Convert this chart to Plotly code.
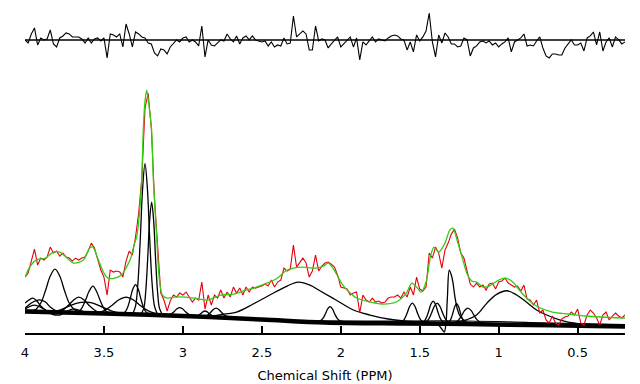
import plotly.graph_objects as go

# ---------------- data ----------------
ppm = [round(4.00 - 0.02 * i, 2) for i in range(191)]

spectrum = [56, 60, 72, 84, 68, 75, 73, 76, 86, 80,
            82, 77, 80, 76, 75, 72, 75, 73, 75, 76,
            82, 90, 85, 74, 63, 56, 38, 63, 61, 62,
            61, 56, 72, 82, 78, 96, 120, 155, 225, 240,
            205, 135, 88, 40, 33, 22, 32, 38, 36, 40,
            38, 41, 36, 31, 35, 33, 51, 24, 38, 28,
            38, 35, 43, 35, 41, 36, 46, 40, 45, 38,
            46, 41, 46, 45, 46, 47, 49, 47, 53, 46,
            51, 53, 65, 62, 64, 88, 66, 70, 75, 70,
            56, 62, 78, 62, 67, 70, 71, 69, 66, 58,
            46, 45, 44, 38, 40, 41, 20, 38, 33, 31,
            35, 31, 32, 30, 31, 35, 36, 36, 38, 35,
            41, 36, 46, 38, 56, 44, 42, 46, 80, 75,
            86, 80, 65, 83, 90, 99, 104, 95, 80, 75,
            62, 49, 46, 50, 46, 48, 43, 49, 50, 44,
            51, 52, 55, 50, 48, 46, 47, 42, 48, 34,
            33, 28, 33, 20, 23, 13, 10, 17, 10, 8,
            14, 16, 17, 21, 18, 24, 10, 8, 18, 23,
            20, 15, 8, 18, 21, 13, 17, 20, 17, 15,
            18]

residual = [0, -3, 6, 12, -5, 2, 0, 1, 10, -4,
            -7, 2, 4, 7, 6, 3, 3, 3, 1, -3,
            2, -3, 1, 2, -1, 2, -18, 6, 5, 3,
            6, -7, 16, 6, -7, 8, 6, 3, 2, -3,
            -4, -13, -16, -9, -10, -14, -7, -3, 0, -2,
            2, 3, -2, 0, -2, -6, 14, -17, 0, -5,
            -6, -3, 0, -1, 6, 1, -2, 4, -4, 2,
            4, 0, 4, 0, -1, -2, -1, -6, -2, -7,
            -5, -6, 2, -4, -3, 24, 3, 6, 9, 6,
            -10, -10, 14, -1, 1, 0, -8, -4, -1, 3,
            -7, -4, -1, 3, -7, 2, -20, -2, -5, -1,
            3, -2, 1, 0, -1, 2, 4, 5, 4, 1,
            0, -10, -2, -12, 5, -1, 3, 9, 27, -2,
            -17, 5, -3, 7, 3, -4, -4, -7, -6, 2,
            0, -16, -8, -6, -2, -1, -3, -1, -5, -3,
            -7, -4, -2, 2, -12, -2, 0, 2, 6, -6,
            -5, -6, -1, 3, -8, -16, -18, -14, -14, -15,
            -15, -8, -4, 0, -5, -5, -3, -11, 2, 4,
            8, -5, 8, -11, -2, 2, -7, 3, 0, -4,
            -2]

fit_ppm = [4.00, 3.97, 3.93, 3.87, 3.82, 3.78, 3.74, 3.69, 3.63, 3.59,
           3.57, 3.54, 3.50, 3.475, 3.43, 3.39, 3.36, 3.33, 3.31, 3.293,
           3.275, 3.261, 3.251, 3.24, 3.229, 3.215, 3.198, 3.187, 3.166, 3.15,
           3.13, 3.10, 3.06, 2.98, 2.90, 2.84, 2.76, 2.68, 2.60, 2.55,
           2.50, 2.45, 2.40, 2.35, 2.30, 2.24, 2.16, 2.11, 2.08, 2.05,
           2.02, 2.00, 1.96, 1.90, 1.81, 1.73, 1.65, 1.585, 1.55, 1.52,
           1.49, 1.46, 1.43, 1.41, 1.38, 1.34, 1.31, 1.29, 1.26, 1.23,
           1.20, 1.17, 1.14, 1.10, 1.06, 1.00, 0.96, 0.91, 0.87, 0.81,
           0.75, 0.66, 0.56, 0.45, 0.35, 0.20]
fit_val = [56, 66, 73, 75, 81, 81, 76, 70, 73, 85,
           86, 75, 60, 55, 55, 58, 65, 75, 88, 96,
           120, 153, 203, 232, 243, 228, 203, 153, 96, 55,
           38, 35, 36, 36, 34, 33, 38, 39, 43, 45,
           48, 51, 55, 62, 65, 66, 65, 67, 70, 65,
           57, 51, 43, 35, 31, 29, 31, 40, 50, 46,
           41, 51, 78, 86, 81, 90, 103, 105, 91, 75,
           59, 52, 51, 46, 47, 53, 55, 51, 43, 33,
           26, 21, 19, 17, 16, 15]

baseline_ppm = [4.0, 3.5, 3.0, 2.5, 2.1, 1.6, 1.2, 0.8, 0.4, 0.2]
baseline_val = [21.5, 19.5, 17, 13.5, 10.5, 9.5, 9, 8, 7, 6.5]
baseline2_ppm = [4.0, 3.0, 2.6, 2.1, 1.2, 0.8, 0.2]
baseline2_val = [23, 18, 14.5, 12, 12, 10.5, 8.5]

c01_ppm = [4.00, 3.975, 3.95, 3.925, 3.90, 3.875, 3.85, 3.82]
c01_val = [30, 33, 35, 32, 27, 23.5, 21.5, 21]
c02_ppm = [4.00, 3.96, 3.93, 3.90, 3.87, 3.84, 3.80, 3.76]
c02_val = [25, 30, 32.5, 33, 31, 26, 22, 20.5]
c03_ppm = [4.00, 3.94, 3.88, 3.83, 3.78, 3.74, 3.70, 3.66, 3.60]
c03_val = [24, 28, 24, 19, 18, 21, 24, 23, 20]
c04_ppm = [3.97, 3.93, 3.90, 3.87, 3.84, 3.81, 3.78, 3.75, 3.72, 3.69, 3.65]
c04_val = [21, 23.7, 30, 42.5, 57, 64, 57, 42.5, 30, 23.7, 21]
c05_ppm = [3.82, 3.77, 3.73, 3.695, 3.66, 3.625, 3.59, 3.55, 3.50]
c05_val = [20.5, 22, 27, 32.5, 36, 33, 27, 22, 20]
c06_ppm = [3.85, 3.78, 3.72, 3.67, 3.62, 3.57, 3.51, 3.45, 3.38]
c06_val = [21, 23, 27, 30, 31, 30, 26, 22, 19.5]
c07_ppm = [3.69, 3.66, 3.64, 3.615, 3.595, 3.57, 3.545, 3.525, 3.50, 3.48, 3.45]
c07_val = [20.4, 21.5, 25, 33.5, 41.5, 47, 41, 33, 24.5, 21, 20]
c08_ppm = [3.60, 3.54, 3.495, 3.45, 3.405, 3.36, 3.315, 3.27, 3.225, 3.18, 3.12]
c08_val = [19.2, 20, 22.6, 27.5, 33.3, 36, 33.3, 27.5, 22.6, 20, 18.5]
c09_ppm = [3.40, 3.37, 3.3525, 3.335, 3.3175, 3.30, 3.2825, 3.265, 3.2475, 3.23, 3.20]
c09_val = [18.5, 20.4, 24.8, 33.5, 43.7, 48.5, 43.7, 33.5, 24.8, 20.4, 18.5]
c10_ppm = [3.32, 3.30, 3.285, 3.27, 3.255, 3.24, 3.225, 3.21, 3.195, 3.18, 3.16]
c10_val = [18.4, 27, 49.5, 93.5, 145, 169.5, 145, 93.5, 49.5, 27, 18.4]
c11_ppm = [3.268, 3.248, 3.2355, 3.223, 3.2105, 3.198, 3.1855, 3.173, 3.1605, 3.148, 3.128]
c11_val = [18, 24.6, 41.3, 74.3, 113, 131, 113, 74.3, 41.3, 24.6, 18]
c12_ppm = [3.12, 3.09, 3.0725, 3.055, 3.0375, 3.02, 3.0025, 2.985, 2.9675, 2.95, 2.92]
c12_val = [17.5, 18, 19.2, 21.5, 24.2, 25.5, 24.2, 21.5, 19.2, 18, 17.5]
c13_ppm = [2.94, 2.92, 2.905, 2.89, 2.875, 2.86, 2.845, 2.83, 2.815, 2.80, 2.78]
c13_val = [16, 16.4, 17.3, 19, 21, 22, 21, 19, 17.3, 16.4, 16]
c14_ppm = [2.89, 2.86, 2.8425, 2.825, 2.8075, 2.79, 2.7725, 2.755, 2.7375, 2.72, 2.69]
c14_val = [16, 16.6, 17.9, 20.5, 23.6, 25, 23.6, 20.5, 17.9, 16.6, 16]
c15_ppm = [2.85, 2.76, 2.66, 2.555, 2.45, 2.34, 2.27, 2.195, 2.13, 2.03, 1.92, 1.815, 1.70, 1.60, 1.50, 1.40]
c15_val = [16, 18.5, 21, 29, 38, 47, 51, 48, 42, 33, 23, 18, 14, 12, 11, 10.5]
c16_ppm = [2.148, 2.128, 2.113, 2.098, 2.083, 2.068, 2.053, 2.038, 2.023, 2.008, 1.988]
c16_val = [11.6, 12.4, 14.7, 19, 24.1, 26.5, 24.1, 19, 14.7, 12.4, 11.6]
c17_ppm = [1.637, 1.612, 1.596, 1.5795, 1.5633, 1.547, 1.5308, 1.5145, 1.4983, 1.482, 1.457]
c17_val = [10.1, 11.25, 14.2, 20, 26.8, 30, 26.8, 20, 14.2, 11.25, 10.1]
c18_ppm = [1.50, 1.475, 1.46, 1.445, 1.43, 1.415, 1.40, 1.385, 1.37, 1.355, 1.33]
c18_val = [10, 11.4, 14.6, 21, 28.5, 32, 28.5, 21, 14.6, 11.4, 10]
c19_ppm = [1.49, 1.46, 1.4425, 1.425, 1.4075, 1.39, 1.3725, 1.355, 1.3375, 1.32, 1.29]
c19_val = [10, 11.2, 14.2, 20, 26.8, 30, 26.8, 20, 14.2, 11.2, 10]
c20_ppm = [1.43, 1.39, 1.365, 1.345, 1.335, 1.325, 1.313, 1.30, 1.29, 1.277, 1.262, 1.245, 1.225, 1.20, 1.16]
c20_val = [10.5, 9, 5, 1, 8, 35, 63, 58, 51, 36, 24, 17, 13.5, 11, 9.5]
c21_ppm = [1.336, 1.316, 1.3035, 1.291, 1.2785, 1.266, 1.2535, 1.241, 1.2285, 1.216, 1.196]
c21_val = [9.6, 10.8, 13.7, 19.5, 26.3, 29.5, 26.3, 19.5, 13.7, 10.8, 9.6]
c22_ppm = [1.305, 1.275, 1.255, 1.235, 1.215, 1.195, 1.175, 1.155, 1.135, 1.115, 1.085]
c22_val = [9.7, 10.6, 12.9, 17.3, 22.6, 25, 22.6, 17.3, 12.9, 10.6, 9.7]
c23_ppm = [1.30, 1.22, 1.14, 1.076, 1.013, 0.949, 0.886, 0.823, 0.76, 0.696, 0.61, 0.506, 0.34, 0.20]
c23_val = [10.5, 12.5, 18, 29.7, 38.7, 42.3, 38, 30.7, 23, 18, 13, 9.7, 8, 7.5]

tick_vals = [4, 3.5, 3, 2.5, 2, 1.5, 1, 0.5]
tick_text = ["4", "3.5", "3", "2.5", "2", "1.5", "1", "0.5"]
x_title = "Chemical Shift (PPM)"

components = [
    (c01_ppm, c01_val), (c02_ppm, c02_val), (c03_ppm, c03_val), (c04_ppm, c04_val),
    (c05_ppm, c05_val), (c06_ppm, c06_val), (c07_ppm, c07_val), (c08_ppm, c08_val),
    (c09_ppm, c09_val), (c10_ppm, c10_val), (c11_ppm, c11_val), (c12_ppm, c12_val),
    (c13_ppm, c13_val), (c14_ppm, c14_val), (c15_ppm, c15_val), (c16_ppm, c16_val),
    (c17_ppm, c17_val), (c18_ppm, c18_val), (c19_ppm, c19_val), (c20_ppm, c20_val),
    (c21_ppm, c21_val), (c22_ppm, c22_val), (c23_ppm, c23_val),
]

# ---------------- figure ----------------
fig = go.Figure()

fig.add_trace(go.Scatter(x=baseline_ppm, y=baseline_val, mode="lines",
                         line=dict(color="black", width=4.5, shape="spline"),
                         hoverinfo="skip"))
fig.add_trace(go.Scatter(x=baseline2_ppm, y=baseline2_val, mode="lines",
                         line=dict(color="black", width=1.2, shape="spline"),
                         hoverinfo="skip"))

for cx, cy in components:
    fig.add_trace(go.Scatter(x=cx, y=cy, mode="lines",
                             line=dict(color="black", width=1.3, shape="spline", smoothing=1.0),
                             hoverinfo="skip"))

fig.add_trace(go.Scatter(x=ppm, y=spectrum, mode="lines",
                         line=dict(color="#e60010", width=1.1)))
fig.add_trace(go.Scatter(x=fit_ppm, y=fit_val, mode="lines",
                         line=dict(color="#33cc11", width=1.3, shape="spline", smoothing=0.8)))

# residual panel
fig.add_trace(go.Scatter(x=[ppm[0], ppm[-1]], y=[0, 0], mode="lines", yaxis="y2",
                         line=dict(color="black", width=1.5)))
fig.add_trace(go.Scatter(x=ppm, y=residual, mode="lines", yaxis="y2",
                         line=dict(color="black", width=1.1)))

fig.update_layout(
    width=640, height=384,
    margin=dict(l=25, r=15, t=0, b=51),
    showlegend=False,
    plot_bgcolor="white", paper_bgcolor="white",
    font=dict(family="DejaVu Sans", size=13, color="black"),
    xaxis=dict(
        range=[ppm[0], ppm[-1]],
        tickmode="array", tickvals=tick_vals, ticktext=tick_text,
        ticks="inside", ticklen=7, tickwidth=1.5, tickcolor="black",
        showline=True, linecolor="black", linewidth=2,
        showgrid=False, zeroline=False,
        tickfont=dict(family="DejaVu Sans", size=13, color="black"),
        ticklabelstandoff=6,
        title=dict(text=x_title, font=dict(family="DejaVu Sans", size=13, color="black"), standoff=12),
    ),
    yaxis=dict(domain=[0, 0.75], range=[0, 250], visible=False),
    yaxis2=dict(domain=[0.76, 1.0], range=[-40, 40], visible=False),
)

fig.write_html(
    "out.html",
    config={"displayModeBar": False},
    post_script="document.body.style.margin='0';document.body.style.padding='0';"
                "document.body.style.overflow='hidden';",
)
